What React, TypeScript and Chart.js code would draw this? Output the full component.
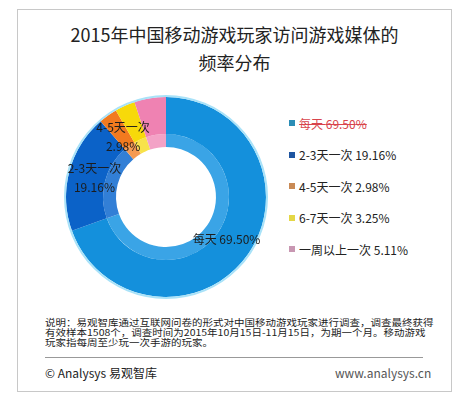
import React, { useEffect, useRef } from "react";
import { Chart, registerables } from "chart.js";

Chart.register(...registerables);

const categories = ["每天", "2-3天一次", "4-5天一次", "6-7天一次", "一周以上一次"];
const values = [69.5, 19.16, 2.98, 3.25, 5.11];
const sliceColors = ["#1490dc", "#0b62c8", "#f27a1f", "#f7d90a", "#ef82b2"];
const innerColors = ["#3aa4e6", "#327fd6", "#f59a52", "#f8e24a", "#f3a2c6"];
const legendColors = ["#2b8db6", "#1f55a0", "#c98a55", "#e4d746", "#c897b2"];
const labelStyle = ["inline", "stacked", "stacked", "none", "none"];
const noteLines = [
  "说明：易观智库通过互联网问卷的形式对中国移动游戏玩家进行调查，调查最终获得",
  "有效样本1508个，调查时间为2015年10月15日-11月15日，为期一个月。移动游戏",
  "玩家指每周至少玩一次手游的玩家。",
];

const FONT = '"Noto Sans CJK SC", "Noto Sans", sans-serif';

const labelPlugin = {
  id: "sliceLabels",
  afterDatasetsDraw(chart: any) {
    const meta = chart.getDatasetMeta(1);
    const ctx = chart.ctx;
    ctx.save();
    ctx.font = `12px ${FONT}`;
    ctx.fillStyle = "#1c1c1c";
    ctx.textAlign = "center";
    ctx.textBaseline = "middle";
    meta.data.forEach((arc: any, i: number) => {
      const style = labelStyle[i];
      if (style === "none") return;
      const mid = (arc.startAngle + arc.endAngle) / 2;
      const r = 74;
      const x = arc.x + Math.cos(mid) * r;
      const y = arc.y + Math.sin(mid) * r;
      const pct = values[i].toFixed(2) + "%";
      if (style === "inline") {
        ctx.fillText(categories[i] + " " + pct, x, y);
      } else {
        ctx.fillText(categories[i], x, y - 9.5);
        ctx.fillText(pct, x, y + 9.5);
      }
    });
    ctx.restore();
  },
};

export default function App() {
  const ref = useRef<HTMLCanvasElement>(null);
  useEffect(() => {
    if (!ref.current) return;
    const chart = new Chart(ref.current, {
      type: "doughnut",
      data: {
        labels: categories,
        datasets: [
          {
            data: [100],
            backgroundColor: ["#a9e2f8"],
            borderWidth: 0,
            weight: 2,
          } as any,
          {
            data: values,
            backgroundColor: sliceColors,
            borderWidth: 0,
            weight: 37,
          } as any,
          {
            data: values,
            backgroundColor: innerColors,
            borderWidth: 0,
            weight: 13,
          } as any,
        ],
      },
      options: {
        animation: false,
        responsive: false,
        cutout: "49%",
        layout: { padding: 8 },
        plugins: {
          legend: { display: false },
          tooltip: { enabled: false },
        },
      },
      plugins: [labelPlugin],
    });
    return () => chart.destroy();
  }, []);

  return (
    <div
      style={{
        position: "fixed",
        left: 0,
        top: 0,
        width: 471,
        height: 399,
        background: "#fff",
        fontFamily: FONT,
        overflow: "hidden",
      }}
    >
      <div
        style={{
          position: "absolute",
          left: 17,
          top: 9,
          width: 435,
          height: 383,
          border: "1px solid #c8c8c8",
          boxSizing: "border-box",
        }}
      />
      <div
        style={{
          position: "absolute",
          left: 17,
          top: 20,
          width: 435,
          textAlign: "center",
          fontSize: 18,
          lineHeight: "28px",
          color: "#222",
        }}
      >
        2015年中国移动游戏玩家访问游戏媒体的
        <br />
        频率分布
      </div>
      <canvas
        ref={ref}
        width={220}
        height={220}
        style={{ position: "absolute", left: 56, top: 87, width: 220, height: 220 }}
      />
      {categories.map((c, i) => (
        <div
          key={c}
          style={{
            position: "absolute",
            left: 289,
            top: 115 + i * 31.5,
            height: 16,
            display: "flex",
            alignItems: "center",
            fontSize: 12,
            color: i === 0 ? "#d8444c" : "#222",
            textDecoration: i === 0 ? "line-through" : "none",
            whiteSpace: "nowrap",
          }}
        >
          <span
            style={{
              display: "inline-block",
              width: 6,
              height: 6,
              background: legendColors[i],
              marginRight: 4,
            }}
          />
          {c} {values[i].toFixed(2)}%
        </div>
      ))}
      <div
        style={{
          position: "absolute",
          left: 45,
          top: 317,
          fontSize: 10.5,
          lineHeight: "11.5px",
          color: "#222",
          whiteSpace: "nowrap",
          transform: "scaleY(0.87)",
          transformOrigin: "top left",
        }}
      >
        {noteLines.map((l) => (
          <div key={l}>{l}</div>
        ))}
      </div>
      <div
        style={{
          position: "absolute",
          left: 45,
          top: 357,
          width: 378,
          height: 1,
          background: "#999",
        }}
      />
      <div
        style={{
          position: "absolute",
          left: 45,
          top: 364,
          fontSize: 12,
          color: "#222",
        }}
      >
        © Analysys 易观智库
      </div>
      <div
        style={{
          position: "absolute",
          left: 335,
          top: 364,
          fontSize: 12,
          color: "#555",
        }}
      >
        www.analysys.cn
      </div>
    </div>
  );
}
